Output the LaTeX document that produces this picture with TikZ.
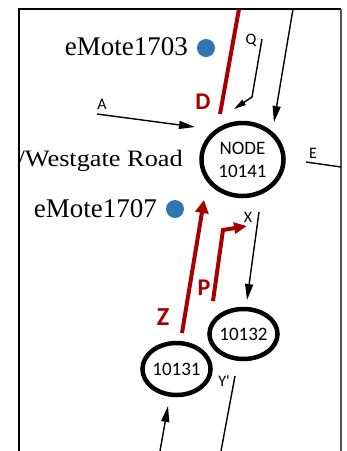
\documentclass[tikz,border=0pt]{standalone}
\usepackage{fontspec}
\setmainfont{Liberation Serif}
\newfontfamily\labelfont{Carlito}
\usetikzlibrary{arrows.meta,shapes.geometric}
\definecolor{lanered}{RGB}{166,0,0}
\definecolor{motedot}{RGB}{46,117,182}
\definecolor{edgegray}{RGB}{85,85,85}

\begin{document}
\begin{tikzpicture}[x=1pt,y=-1pt,
  station/.style={draw,ellipse,line width=4.5pt,inner sep=0pt,align=center,
    font=\labelfont\fontsize{19}{23}\selectfont},
  mote/.style={circle,fill=motedot,minimum size=18pt,inner sep=0pt},
  motetext/.style={anchor=base east,inner sep=0pt,font=\fontsize{27}{30}\selectfont},
  tag/.style={inner sep=0pt,font=\labelfont\fontsize{16}{18}\selectfont},
  lanetag/.style={inner sep=0pt,text=lanered,font=\labelfont\bfseries\fontsize{24}{26}\selectfont},
  flow/.style={line width=1.4pt,-{Triangle[length=16pt,width=8pt]}},
  plainflow/.style={line width=1.4pt},
  lane/.style={line width=4pt,draw=lanered},
  lanearrow/.style={line width=4pt,draw=lanered,-{Triangle[length=13pt,width=13pt]}},
  frameline/.style={line width=1.4pt}
]
\useasboundingbox (0,0) rectangle (347,451);

% frame
\coordinate (tl) at (19,9);
\coordinate (tr) at (341,9);
\coordinate (bl) at (19,451);
\coordinate (br) at (341,451);
\draw[frameline] (bl) -- (tl) -- (tr);
\draw[frameline,draw=edgegray] (tr) -- (br);

% intersections
\node[station,minimum width=82pt,minimum height=73pt] (n10141) at (242.5,159.5) {NODE\\10141};
\node[station,minimum width=56pt,minimum height=50pt] (n10132) at (243.5,334) {10132};
\node[station,minimum width=58pt,minimum height=52pt] (n10131) at (176.5,369) {10131};

% sensor motes and street name
\node[mote] (m1703) at (206,48) {};
\node[motetext] (t1703) at (188,55) {eMote1703};
\node[mote] (m1707) at (175,209) {};
\node[motetext] (t1707) at (157,217) {eMote1707};
\node[anchor=base east,inner sep=0pt,font=\fontsize{23.5}{26}\selectfont,xscale=1.12] (road) at (183,166) {/Westgate Road};

% movement labels
\node[tag] (la) at (102,104) {A};
\node[tag] (lq) at (251,40) {Q};
\node[tag] (le) at (313,153) {E};
\node[tag] (lx) at (248,217) {X};
\node[tag] (ly) at (224,381) {Y'};
\node[lanetag] (ld) at (203,102) {D};
\node[lanetag] (lp) at (204,288) {P};
\node[lanetag,font=\labelfont\bfseries\fontsize{26}{28}\selectfont] (lz) at (163,317) {Z};

% black movements
\coordinate (topS) at (293,9);
\coordinate (topE) at (274,122);
\draw[flow] (topS) -- (topE);
\coordinate (aS) at (97,114);
\coordinate (aE) at (195,127);
\draw[flow] (aS) -- (aE);
\coordinate (qS) at (262,39);
\coordinate (qB) at (252,97);
\coordinate (qE) at (234,109);
\draw[line width=1.4pt,-{Triangle[length=12pt,width=6pt]}] (qS) -- (qB) -- (qE);
\coordinate (xS) at (259,212);
\coordinate (xE) at (247,300);
\draw[flow] (xS) -- (xE);
\coordinate (inS) at (160,451);
\coordinate (inE) at (168,406);
\draw[flow] (inS) -- (inE);
\coordinate (eS) at (306,162);
\draw[plainflow] (eS) -- (br |- 0,167);
\coordinate (yS) at (235,376);
\coordinate (yE) at (221,451);
\draw[plainflow] (yS) -- (yE);

% red lanes
\coordinate (dS) at (239,9);
\coordinate (dE) at (220,114);
\draw[lane] (dS) -- (dE);
\coordinate (zS) at (182,333);
\coordinate (zE) at (204,200);
\draw[lanearrow] (zS) -- (zE);
\coordinate (pS) at (213,301);
\coordinate (pB) at (223,230);
\coordinate (pE) at (247,226);
\draw[lanearrow,-{Triangle[length=13pt,width=11pt]}] (pS) -- (pB) -- (pE);
\end{tikzpicture}
\end{document}
